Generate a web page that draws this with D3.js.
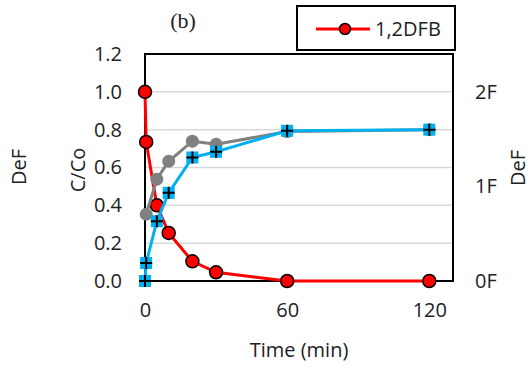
<!DOCTYPE html>
<html lang="en">
<head>
<meta charset="utf-8">
<script src="https://cdn.jsdelivr.net/npm/d3@7"></script>
<style>
  body { margin: 0; background: #fff; }
  text { font-family: "Open Sans", "Noto Sans", sans-serif; fill: #222; }
</style>
</head>
<body>
<svg id="chart" width="531" height="369"></svg>
<script>
// times (min) and C/Co values
var timesRed = [0, 0.5, 5, 10, 20, 30, 60, 120];
var valuesRed = [1.0, 0.735, 0.40, 0.254, 0.104, 0.046, 0.0, 0.0];

var timesGray = [0.5, 5, 10, 20, 30, 60, 120];
var valuesGray = [0.353, 0.538, 0.633, 0.739, 0.723, 0.79, 0.80];

var timesBlue = [0, 0.5, 5, 10, 20, 30, 60, 120];
var valuesBlue = [0.0, 0.095, 0.316, 0.466, 0.653, 0.683, 0.794, 0.80];

var xTicks = [0, 60, 120];
var yTicks = [0, 0.2, 0.4, 0.6, 0.8, 1.0, 1.2];
var yRightTicks = [0, 1, 2];
var legendLabel = "1,2DFB";

var svg = d3.select("#chart");
var pLeft = 145, pRight = 453, pTop = 54, pBottom = 281;

var x = d3.scaleLinear().domain([0, 130]).range([pLeft, pRight]);
var y = d3.scaleLinear().domain([0, 1.2]).range([pBottom, pTop]);
var yR = d3.scaleLinear().domain([0, 2.4]).range([pBottom, pTop]);

// gridlines
svg.append("g").selectAll("line")
    .data(yTicks.filter(function(d){ return d > 0 && d < 1.2; }))
    .enter().append("line")
    .attr("x1", pLeft).attr("x2", pRight)
    .attr("y1", function(d){ return y(d); })
    .attr("y2", function(d){ return y(d); })
    .attr("stroke", "#d9d9d9").attr("stroke-width", 1.5);

// left axis labels
var yAxis = d3.axisLeft(y).tickValues(yTicks).tickSize(0).tickPadding(23)
    .tickFormat(d3.format(".1f"));
var gy = svg.append("g").attr("transform", "translate(" + pLeft + ",0)").call(yAxis);
gy.select(".domain").remove();
gy.selectAll("text").style("font-size", "20px").style("font-family", null).attr("fill", "#222");

// right axis labels
var yRAxis = d3.axisRight(yR).tickValues(yRightTicks).tickSize(0).tickPadding(22)
    .tickFormat(function(d){ return d + "F"; });
var gyr = svg.append("g").attr("transform", "translate(" + pRight + ",0)").call(yRAxis);
gyr.select(".domain").remove();
gyr.selectAll("text").style("font-size", "20px").style("font-family", null).attr("fill", "#222");

// x axis labels
var xAxis = d3.axisBottom(x).tickValues(xTicks).tickSize(0).tickPadding(22);
var gx = svg.append("g").attr("transform", "translate(0," + pBottom + ")").call(xAxis);
gx.select(".domain").remove();
gx.selectAll("text").style("font-size", "20px").style("font-family", null).attr("fill", "#222");

// plot border
svg.append("rect")
    .attr("x", pLeft).attr("y", pTop)
    .attr("width", pRight - pLeft).attr("height", pBottom - pTop)
    .attr("fill", "none").attr("stroke", "#000").attr("stroke-width", 2);

var line = d3.line()
    .x(function(d){ return x(d[0]); })
    .y(function(d){ return y(d[1]); });

function zip(ts, vs) {
    return ts.map(function(t, i){ return [t, vs[i]]; });
}

var red = zip(timesRed, valuesRed);
var gray = zip(timesGray, valuesGray);
var blue = zip(timesBlue, valuesBlue);

// red series
svg.append("path").datum(red).attr("d", line)
    .attr("fill", "none").attr("stroke", "#ff0000").attr("stroke-width", 3);
svg.append("g").selectAll("circle").data(red).enter().append("circle")
    .attr("cx", function(d){ return x(d[0]); })
    .attr("cy", function(d){ return y(d[1]); })
    .attr("r", 6.5)
    .attr("fill", "#ff0000").attr("stroke", "#000").attr("stroke-width", 1.5);

// gray series
svg.append("path").datum(gray).attr("d", line)
    .attr("fill", "none").attr("stroke", "#808080").attr("stroke-width", 3);
svg.append("g").selectAll("circle").data(gray).enter().append("circle")
    .attr("cx", function(d){ return x(d[0]); })
    .attr("cy", function(d){ return y(d[1]); })
    .attr("r", 6.5)
    .attr("fill", "#808080");

// blue series
svg.append("path").datum(blue).attr("d", line)
    .attr("fill", "none").attr("stroke", "#00b0f0").attr("stroke-width", 3);
var bm = svg.append("g").selectAll("g").data(blue).enter().append("g")
    .attr("transform", function(d){ return "translate(" + x(d[0]) + "," + y(d[1]) + ")"; });
bm.append("rect").attr("x", -6).attr("y", -6).attr("width", 12).attr("height", 12)
    .attr("fill", "#00b0f0");
bm.append("path").attr("d", "M-6,0H6M0,-6V6")
    .attr("stroke", "#000").attr("stroke-width", 2);

// title
svg.append("text").attr("x", 183).attr("y", 28)
    .attr("text-anchor", "middle")
    .style("font-family", "'Liberation Serif', 'DejaVu Serif', serif")
    .style("font-size", "22px")
    .text("(b)");

// legend
var lg = svg.append("g");
lg.append("rect").attr("x", 297).attr("y", 6).attr("width", 158).attr("height", 44)
    .attr("fill", "#fff").attr("stroke", "#000").attr("stroke-width", 2);
lg.append("line").attr("x1", 316).attr("x2", 370).attr("y1", 29).attr("y2", 29)
    .attr("stroke", "#ff0000").attr("stroke-width", 3);
lg.append("circle").attr("cx", 345).attr("cy", 29).attr("r", 5.5)
    .attr("fill", "#ff0000").attr("stroke", "#000").attr("stroke-width", 1.5);
lg.append("text").attr("x", 375).attr("y", 36)
    .style("font-size", "20px").text(legendLabel);

// axis titles
svg.append("text").attr("x", (pLeft + pRight) / 2 + 0).attr("y", 357)
    .attr("text-anchor", "middle").style("font-size", "20px").text("Time (min)");
svg.append("text").attr("transform", "translate(85,170) rotate(-90)")
    .attr("text-anchor", "middle").style("font-size", "20px").text("C/Co");
svg.append("text").attr("transform", "translate(26,167) rotate(-90)")
    .attr("text-anchor", "middle").style("font-size", "20px").text("DeF");
svg.append("text").attr("transform", "translate(525,168) rotate(-90)")
    .attr("text-anchor", "middle").style("font-size", "20px").text("DeF");
</script>
</body>
</html>
